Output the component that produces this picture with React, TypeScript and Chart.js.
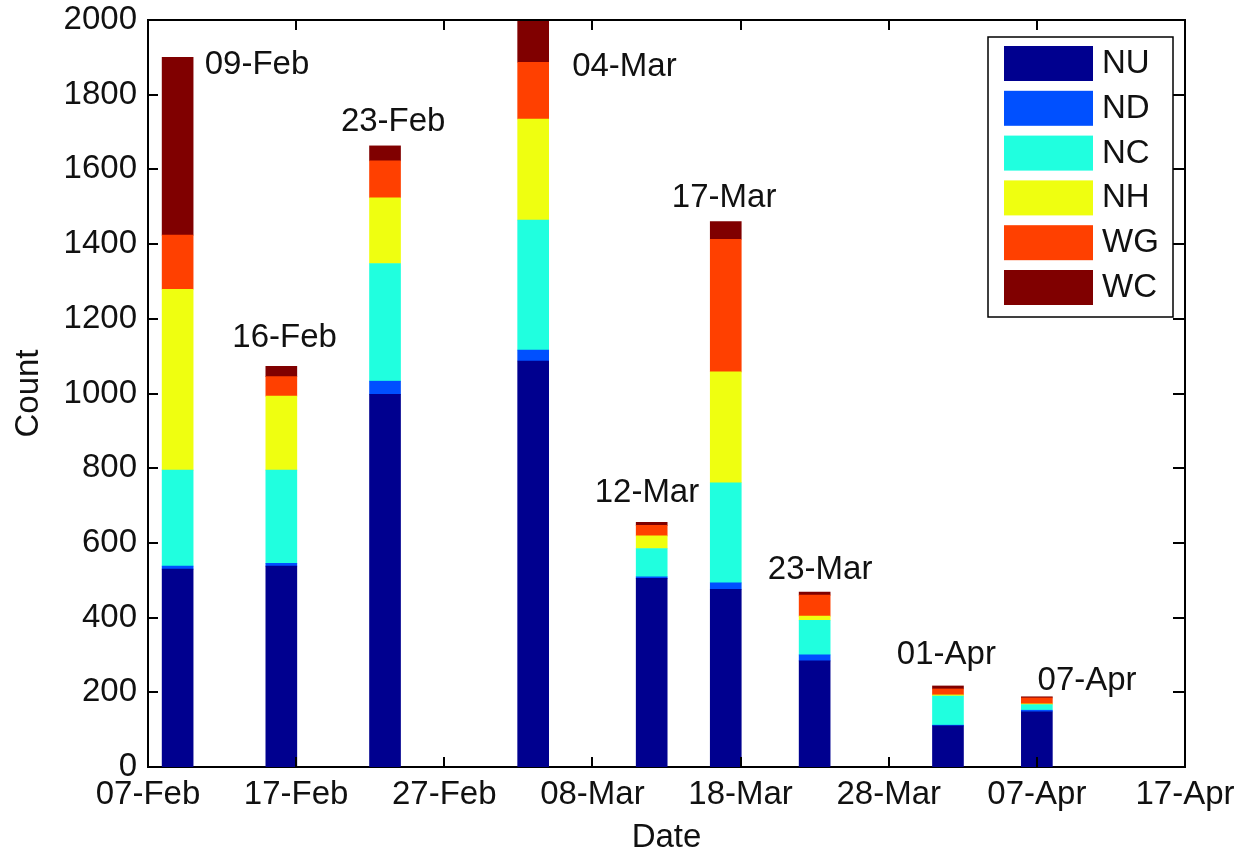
import React, { useEffect, useRef } from 'react';
import { Chart, registerables } from 'chart.js';

Chart.register(...registerables);

// ---------- data ----------
const axisStart = '2012-02-07';
const axisEnd = '2012-04-17';
const axisStepDays = 10;
const barDates = ['2012-02-09', '2012-02-16', '2012-02-23', '2012-03-04', '2012-03-12', '2012-03-17', '2012-03-23', '2012-04-01', '2012-04-07'];
const seriesNames = ['NU', 'ND', 'NC', 'NH', 'WG', 'WC'];
const NU = [530, 538, 998, 1087, 505, 476, 284, 110, 148];
const ND = [8, 7, 35, 29, 4, 17, 16, 2, 4];
const NC = [257, 250, 315, 348, 76, 268, 93, 78, 15];
const NH = [484, 198, 176, 271, 34, 297, 11, 3, 2];
const WG = [145, 52, 99, 152, 28, 355, 56, 16, 16];
const WC = [476, 28, 40, 113, 8, 47, 8, 8, 3];
const yTicks = { min: 0, max: 2000, step: 200 };
// text annotations (data coordinates: day offset, count)
const labelDay = [7.36, 9.22, 16.55, 32.16, 33.68, 38.89, 45.37, 53.89, 63.39];
const labelCount = [1881, 1150, 1727, 1875, 735, 1523, 529, 300, 230];

const seriesValues = [NU, ND, NC, NH, WG, WC];
const seriesColors = ['#00008F', '#0050FF', '#20FFDF', '#EFFF10', '#FF4000', '#800000'];

const MONTHS = ['Jan', 'Feb', 'Mar', 'Apr', 'May', 'Jun', 'Jul', 'Aug', 'Sep', 'Oct', 'Nov', 'Dec'];
const DAY = 86400000;
const toUTC = (s: string) => {
  const [y, m, d] = s.split('-').map(Number);
  return Date.UTC(y, m - 1, d);
};
const startMs = toUTC(axisStart);
const dayOffset = (s: string) => Math.round((toUTC(s) - startMs) / DAY);
const fmtDay = (v: number) => {
  const d = new Date(startMs + Math.round(v) * DAY);
  const dd = String(d.getUTCDate()).padStart(2, '0');
  return `${dd}-${MONTHS[d.getUTCMonth()]}`;
};

const FONT_FAMILY = "'Liberation Sans', Arial, Helvetica, sans-serif";
const FONT = { family: FONT_FAMILY, size: 33 };
const TEXT_COLOR = '#111';

const framePlugin = {
  id: 'frame',
  afterDatasetsDraw(chart: any) {
    const { ctx, chartArea, scales } = chart;
    const { left, right, top, bottom } = chartArea;
    const x = scales.x;
    const y = scales.y;
    ctx.save();
    ctx.strokeStyle = '#000';
    ctx.lineWidth = 2;
    ctx.beginPath();
    ctx.moveTo(left, top);
    ctx.lineTo(right, top);
    ctx.lineTo(right, bottom);
    ctx.stroke();
    ctx.beginPath();
    x.ticks.forEach((t: any) => {
      const px = Math.round(x.getPixelForValue(t.value));
      ctx.moveTo(px, bottom);
      ctx.lineTo(px, bottom - 10);
      ctx.moveTo(px, top);
      ctx.lineTo(px, top + 10);
    });
    y.ticks.forEach((t: any) => {
      const py = Math.round(y.getPixelForValue(t.value));
      ctx.moveTo(left, py);
      ctx.lineTo(left + 10, py);
      ctx.moveTo(right, py);
      ctx.lineTo(right - 12, py);
    });
    ctx.stroke();
    ctx.restore();
  },
};

const barLabelPlugin = {
  id: 'barLabels',
  afterDatasetsDraw(chart: any) {
    const { ctx, scales } = chart;
    ctx.save();
    ctx.fillStyle = TEXT_COLOR;
    ctx.font = `${FONT.size}px ${FONT_FAMILY}`;
    ctx.textAlign = 'center';
    ctx.textBaseline = 'middle';
    barDates.forEach((d, i) => {
      const px = scales.x.getPixelForValue(labelDay[i]);
      const py = scales.y.getPixelForValue(labelCount[i]);
      ctx.fillText(fmtDay(dayOffset(d)), px, py);
    });
    ctx.restore();
  },
};

const legendBoxPlugin = {
  id: 'legendBox',
  afterDraw(chart: any) {
    const { ctx, chartArea } = chart;
    const boxW = 185;
    const boxH = 280;
    const bx = chartArea.right - 12 - boxW;
    const by = chartArea.top + 17;
    ctx.save();
    ctx.fillStyle = '#fff';
    ctx.fillRect(bx, by, boxW, boxH);
    ctx.strokeStyle = '#000';
    ctx.lineWidth = 1.5;
    ctx.strokeRect(bx, by, boxW, boxH);
    ctx.font = `${FONT.size}px ${FONT_FAMILY}`;
    ctx.textAlign = 'left';
    ctx.textBaseline = 'middle';
    chart.data.datasets.forEach((ds: any, i: number) => {
      const sy = by + 9 + i * 44.8;
      ctx.fillStyle = ds.backgroundColor;
      ctx.fillRect(bx + 16, sy, 89, 35);
      ctx.fillStyle = TEXT_COLOR;
      ctx.fillText(ds.label, bx + 114, sy + 18);
    });
    ctx.restore();
  },
};

export default function App() {
  const canvasRef = useRef<HTMLCanvasElement | null>(null);

  useEffect(() => {
    document.body.style.margin = '0';
    const canvas = canvasRef.current;
    if (!canvas) return;
    const barX = barDates.map(dayOffset);
    const chart = new Chart(canvas, {
      type: 'bar',
      data: {
        datasets: seriesNames.map((name, s) => ({
          label: name,
          data: barX.map((x, i) => ({ x, y: seriesValues[s][i] })),
          backgroundColor: seriesColors[s],
          borderWidth: 0,
          barThickness: 31,
        })),
      },
      options: {
        animation: false,
        responsive: false,
        devicePixelRatio: 1,
        layout: { padding: { top: 20, right: 63, left: 0, bottom: 0 } },
        plugins: {
          legend: { display: false },
          tooltip: { enabled: false },
        },
        scales: {
          x: {
            type: 'linear',
            stacked: true,
            offset: false,
            min: 0,
            max: dayOffset(axisEnd),
            ticks: {
              stepSize: axisStepDays,
              autoSkip: false,
              maxRotation: 0,
              padding: 8,
              color: TEXT_COLOR,
              font: FONT,
              callback: (v: any) => fmtDay(Number(v)),
            },
            grid: { display: false, drawTicks: false },
            border: { display: true, color: '#000', width: 2 },
            title: { display: true, text: 'Date', color: TEXT_COLOR, font: FONT, padding: { top: 0, bottom: 1 } },
            afterFit: (s: any) => { s.height = 92; s.paddingLeft = 0; s.paddingRight = 0; },
          },
          y: {
            stacked: true,
            min: yTicks.min,
            max: yTicks.max,
            ticks: { stepSize: yTicks.step, padding: 11, color: TEXT_COLOR, font: FONT, callback: (v: any) => String(v) },
            grid: { display: false, drawTicks: false },
            border: { display: true, color: '#000', width: 2 },
            title: { display: true, text: 'Count', color: TEXT_COLOR, font: FONT, padding: { top: 9, bottom: 0 } },
            afterFit: (s: any) => { s.width = 148; s.paddingTop = 0; s.paddingBottom = 0; },
          },
        },
      } as any,
      plugins: [framePlugin, barLabelPlugin, legendBoxPlugin],
    });
    return () => chart.destroy();
  }, []);

  return (
    <div style={{ width: 1248, height: 859, background: '#fff' }}>
      <canvas ref={canvasRef} width={1248} height={859} style={{ display: 'block' }} />
    </div>
  );
}
